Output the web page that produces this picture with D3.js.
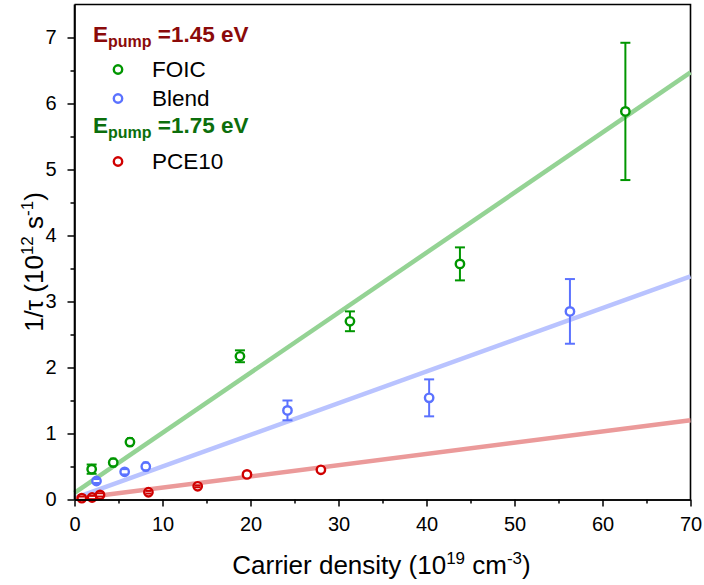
<!DOCTYPE html>
<html>
<head>
<meta charset="utf-8">
<script src="https://cdn.jsdelivr.net/npm/d3@7"></script>
<style>
  body { margin: 0; background: #fff; }
  svg { font-family: "Liberation Sans", Arial, sans-serif; }
</style>
</head>
<body>
<svg width="704" height="585"></svg>
<script>
// data
var foicX   = [1.95, 4.4, 6.3, 18.8, 31.3, 43.8, 62.6];
var foicY   = [0.46, 0.56, 0.87, 2.17, 2.70, 3.57, 5.88];
var foicErr = [0.07, 0.06, 0.06, 0.09, 0.15, 0.25, 1.04];

var blendX   = [2.5, 5.7, 8.1, 24.2, 40.3, 56.3];
var blendY   = [0.28, 0.42, 0.50, 1.35, 1.54, 2.85];
var blendErr = [0.03, 0.04, 0.06, 0.15, 0.28, 0.49];

var pceX   = [0.83, 2.0, 2.9, 8.4, 14.0, 19.6, 28.0];
var pceY   = [0.02, 0.03, 0.07, 0.11, 0.20, 0.38, 0.45];
var pceErr = [0.025, 0.025, 0.025, 0.02, 0.015, 0, 0];

// linear fits, value at x = 0 and x = 70
var fitX     = [0, 70];
var foicFit  = [0.10, 6.47];
var blendFit = [0.02, 3.38];
var pceFit   = [0.01, 1.20];

var xTicks = [0, 10, 20, 30, 40, 50, 60, 70];
var yTicks = [0, 1, 2, 3, 4, 5, 6, 7];

var series = [
  {name: "FOIC",  xs: foicX,  ys: foicY,  err: foicErr,  fit: foicFit,  color: "#009600", fitColor: "#94d394"},
  {name: "Blend", xs: blendX, ys: blendY, err: blendErr, fit: blendFit, color: "#5b72ff", fitColor: "#b9c3ff"},
  {name: "PCE10", xs: pceX,   ys: pceY,   err: pceErr,   fit: pceFit,   color: "#d00000", fitColor: "#eb9a9a"}
];

var svg = d3.select("svg");
var mLeft = 74.5, mRight = 690.5, mTop = 4.5, mBottom = 499.5;

var x = d3.scaleLinear().domain([0, 70]).range([mLeft, mRight]);
var y = d3.scaleLinear().domain([0, 7.5]).range([mBottom, mTop]);

// frame (top + right)
svg.append("path")
  .attr("d", "M" + mLeft + "," + mTop + "H" + mRight + "V" + mBottom)
  .attr("fill", "none").attr("stroke", "#000").attr("stroke-width", 1.6);

// fit lines
var g = svg.append("g");
series.forEach(function(s) {
  g.append("line")
    .attr("x1", x(fitX[0])).attr("y1", y(s.fit[0]))
    .attr("x2", x(fitX[1])).attr("y2", y(s.fit[1]))
    .attr("stroke", s.fitColor).attr("stroke-width", 4.5);
});

// markers + error bars
var r = 4.2;
series.forEach(function(s) {
  var pts = s.xs.map(function(v, i) { return {x: v, y: s.ys[i], e: s.err[i]}; });
  var sg = g.append("g");
  sg.selectAll("circle").data(pts).enter().append("circle")
    .attr("cx", d => x(d.x)).attr("cy", d => y(d.y)).attr("r", r)
    .attr("fill", "#fff").attr("stroke", s.color).attr("stroke-width", 2.4);

  pts.forEach(function(d) {
    if (!d.e) return;
    var cx = x(d.x), cy = y(d.y);
    var yt = y(d.y + d.e), yb = y(d.y - d.e);
    var capW = 5;
    if (cy - yt > r) {
      sg.append("line").attr("x1", cx).attr("x2", cx).attr("y1", cy - r).attr("y2", yt)
        .attr("stroke", s.color).attr("stroke-width", 2);
      sg.append("line").attr("x1", cx).attr("x2", cx).attr("y1", cy + r).attr("y2", yb)
        .attr("stroke", s.color).attr("stroke-width", 2);
    } else {
      capW = 3;
    }
    [yt, yb].forEach(function(yy) {
      sg.append("line").attr("x1", cx - capW).attr("x2", cx + capW).attr("y1", yy).attr("y2", yy)
        .attr("stroke", s.color).attr("stroke-width", 2);
    });
  });
});

// axes
svg.append("g").attr("transform", "translate(0," + mBottom + ")")
  .call(d3.axisBottom(x).tickValues(xTicks).tickSize(7).tickPadding(10).tickSizeOuter(0));
svg.append("g").attr("transform", "translate(0," + mBottom + ")")
  .call(d3.axisBottom(x).tickValues(d3.range(5, 70, 10)).tickSize(4).tickFormat("").tickSizeOuter(0));
var yAxis = svg.append("g").attr("transform", "translate(" + mLeft + ",0)")
  .call(d3.axisLeft(y).tickValues(yTicks).tickSize(7).tickPadding(11).tickSizeOuter(0));
svg.append("g").attr("transform", "translate(" + mLeft + ",0)")
  .call(d3.axisLeft(y).tickValues(d3.range(0.5, 7.5, 1)).tickSize(4).tickFormat("").tickSizeOuter(0));

svg.selectAll(".domain").attr("stroke-width", 1.6);
svg.selectAll(".tick line").attr("stroke-width", 1.5);
svg.selectAll(".tick text").attr("font-size", 20).attr("fill", "#000")
  .attr("font-family", "Liberation Sans, Arial, sans-serif");
// y axis line runs up to the top frame
yAxis.select(".domain").attr("d", "M0," + mTop + "V" + mBottom);

// axis titles
var xt = svg.append("text").attr("x", (mLeft + mRight) / 2 - 1).attr("y", 574)
  .attr("text-anchor", "middle").attr("font-size", 26);
xt.append("tspan").text("Carrier density (10");
xt.append("tspan").attr("dy", -10).attr("font-size", 17).text("19");
xt.append("tspan").attr("dy", 10).text(" cm");
xt.append("tspan").attr("dy", -10).attr("font-size", 17).text("-3");
xt.append("tspan").attr("dy", 10).text(")");

var yt = svg.append("text").attr("transform", "translate(43,262) rotate(-90)")
  .attr("text-anchor", "middle").attr("font-size", 26);
yt.append("tspan").text("1/\u03c4 (10");
yt.append("tspan").attr("dy", -10).attr("font-size", 17).text("12");
yt.append("tspan").attr("dy", 10).text(" s");
yt.append("tspan").attr("dy", -10).attr("font-size", 17).text("-1");
yt.append("tspan").attr("dy", 10).text(")");

// legend
function pumpLabel(yPos, value, color) {
  var t = svg.append("text").attr("x", 93).attr("y", yPos)
    .attr("font-size", 22.5).attr("font-weight", "bold").attr("fill", color);
  t.append("tspan").text("E");
  t.append("tspan").attr("dy", 5).attr("font-size", 16).text("pump");
  t.append("tspan").attr("dy", -5).text(" =" + value + " eV");
}
function legendItem(yPos, s) {
  svg.append("circle").attr("cx", 118).attr("cy", yPos).attr("r", r)
    .attr("fill", "#fff").attr("stroke", s.color).attr("stroke-width", 2.4);
  svg.append("text").attr("x", 152).attr("y", yPos + 7.5).attr("font-size", 22.5).text(s.name);
}
pumpLabel(42, "1.45", "#8b0a0a");
legendItem(69.5, series[0]);
legendItem(98.5, series[1]);
pumpLabel(133, "1.75", "#0c6e0c");
legendItem(161.5, series[2]);
</script>
</body>
</html>
